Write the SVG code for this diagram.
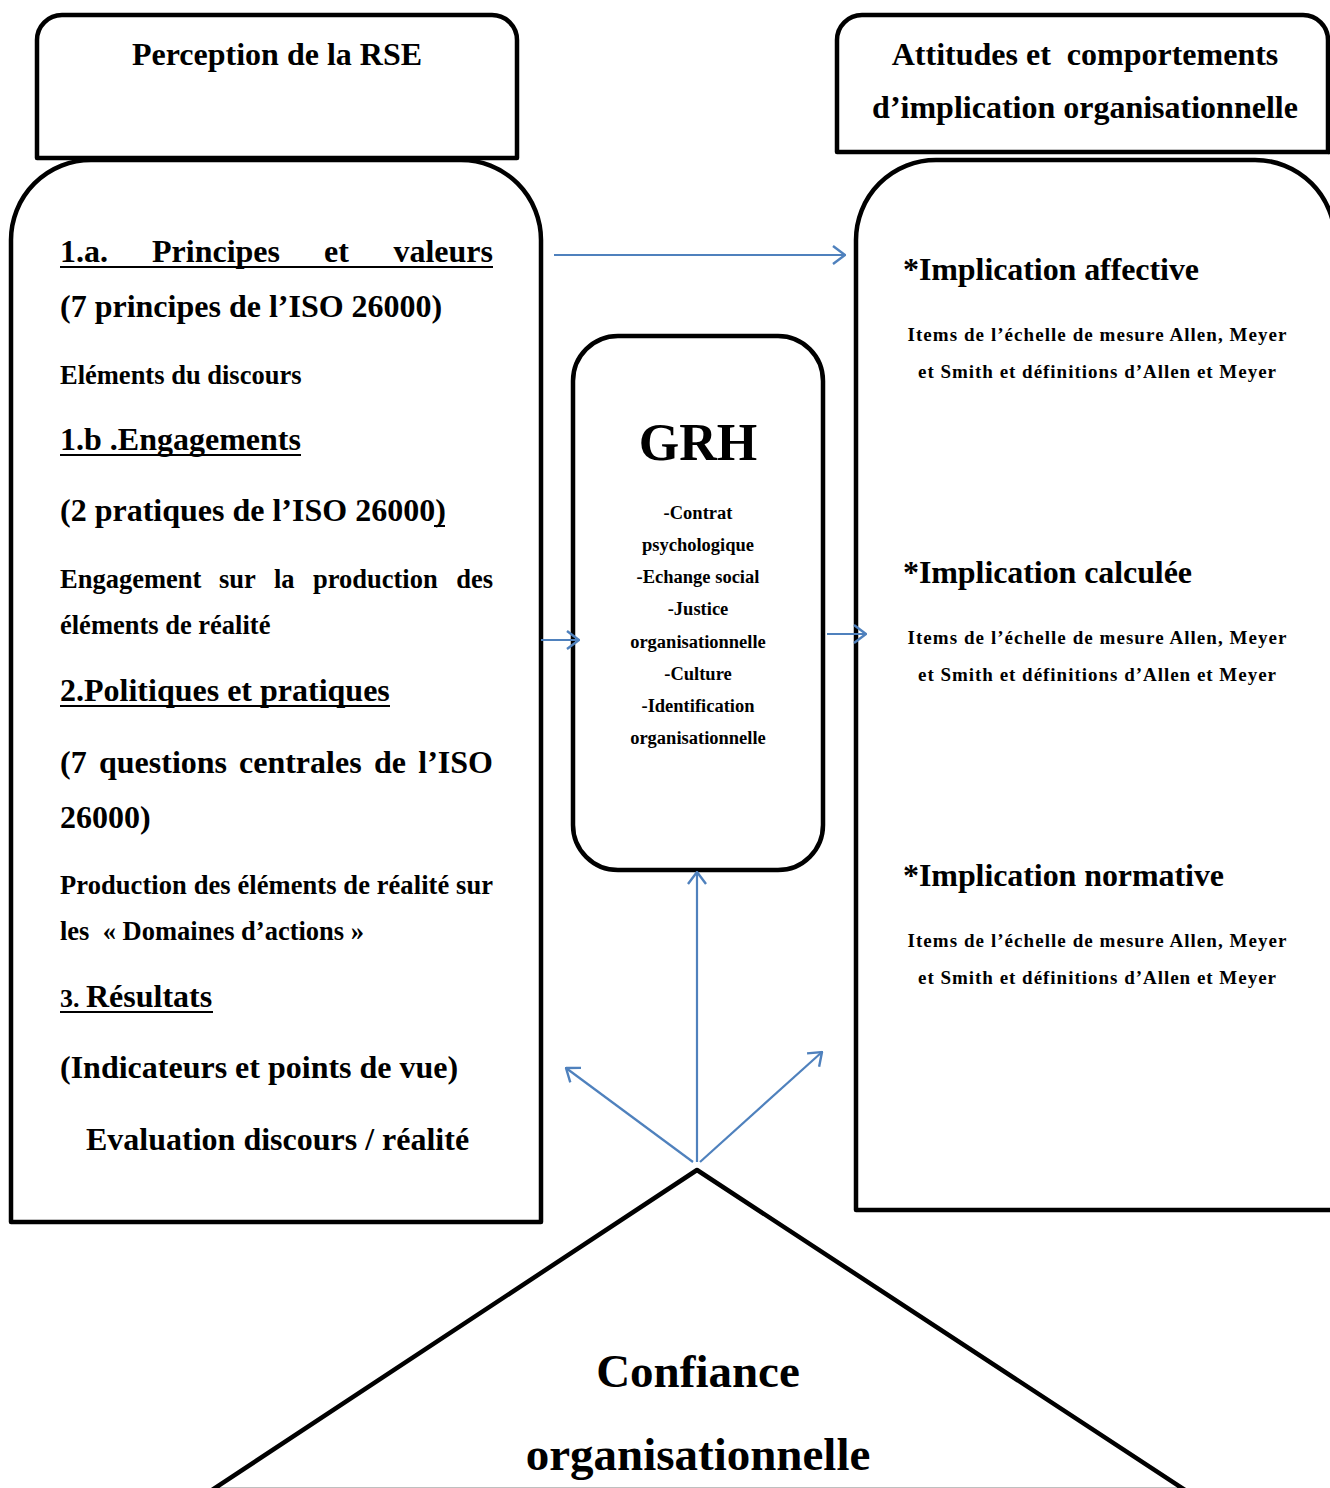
<svg xmlns="http://www.w3.org/2000/svg" width="1330" height="1488" viewBox="0 0 1330 1488">
<style>
.box{fill:#fff;stroke:#000;stroke-width:4.5;stroke-linejoin:round}
.t{font-family:"Liberation Serif","Times New Roman",serif;font-weight:bold;fill:#000}
.h{font-size:32px}
.s{font-size:26.5px}
.g{font-size:18.5px}
.i{font-size:19px}
.u{stroke:#000;stroke-width:2}
.c{fill:none;stroke:#4F81BD;stroke-width:2.2}
</style>
<defs>
<marker id="ah" viewBox="0 0 14 20" refX="13" refY="10" markerUnits="userSpaceOnUse" markerWidth="14" markerHeight="20" orient="auto">
<path d="M1,1 L13,10 L1,19" fill="none" stroke="#4F81BD" stroke-width="2.4"/>
</marker>
</defs>
<rect width="1330" height="1488" fill="#fff"/>

<g id="left-header">
<path class="box" d="M37,158 V40 A25,25 0 0 1 62,15 H492 A25,25 0 0 1 517,40 V158 Z"/>
<text class="t h" x="277" y="65" text-anchor="middle">Perception de la RSE</text>
</g>

<g id="left-box">
<path class="box" d="M11,1222 V240 A80,80 0 0 1 91,160 H461 A80,80 0 0 1 541,240 V1222 Z"/>
<text class="t h" y="262"><tspan x="60">1.a.</tspan><tspan x="152">Principes</tspan><tspan x="324">et</tspan><tspan x="493" text-anchor="end">valeurs</tspan></text>
<line class="u" x1="60" y1="267" x2="493" y2="267"/>
<text class="t h" x="60" y="317">(7 principes de l’ISO 26000)</text>
<text class="t s" x="60" y="384">Eléments du discours</text>
<text class="t h" x="60" y="450">1.b .Engagements</text>
<line class="u" x1="60" y1="455" x2="301" y2="455"/>
<text class="t h" x="60" y="521">(2 pratiques de l’ISO 26000)</text>
<line class="u" x1="434" y1="526" x2="445" y2="526"/>
<text class="t s" y="588"><tspan x="60">Engagement</tspan><tspan x="219">sur</tspan><tspan x="274">la</tspan><tspan x="313">production</tspan><tspan x="493" text-anchor="end">des</tspan></text>
<text class="t s" x="60" y="634">éléments de réalité</text>
<text class="t h" x="60" y="701">2.Politiques et pratiques</text>
<line class="u" x1="60" y1="706" x2="390" y2="706"/>
<text class="t h" y="773"><tspan x="60">(7</tspan><tspan x="99">questions</tspan><tspan x="239">centrales</tspan><tspan x="374">de</tspan><tspan x="493" text-anchor="end">l’ISO</tspan></text>
<text class="t h" x="60" y="828">26000)</text>
<text class="t s" x="60" y="894" textLength="433" lengthAdjust="spacing">Production des éléments de réalité sur</text>
<text class="t s" x="60" y="940" xml:space="preserve">les  « Domaines d’actions »</text>
<text class="t h" x="60" y="1007"><tspan font-size="26">3. </tspan>Résultats</text>
<line class="u" x1="60" y1="1012" x2="213" y2="1012"/>
<text class="t h" x="60" y="1078">(Indicateurs et points de vue)</text>
<text class="t h" x="86" y="1150">Evaluation discours / réalité</text>
</g>

<g id="right-header">
<path class="box" d="M837,152 V40 A25,25 0 0 1 862,15 H1303 A25,25 0 0 1 1328,40 V152 Z"/>
<path class="box" d="M1328,152 H1340"/>
<text class="t h" x="1085" y="65" text-anchor="middle" xml:space="preserve">Attitudes et  comportements</text>
<text class="t h" x="1085" y="118" text-anchor="middle">d’implication organisationnelle</text>
</g>

<g id="right-box">
<path class="box" d="M856,1210 V240 A80,80 0 0 1 936,160 H1255 A80,80 0 0 1 1335,240 V1210 Z"/>
<text class="t h" x="903" y="280" textLength="296" lengthAdjust="spacing">*Implication affective</text>
<text class="t i" x="1097" y="341" text-anchor="middle" textLength="379" lengthAdjust="spacing">Items de l’échelle de mesure Allen, Meyer</text>
<text class="t i" x="1097" y="378" text-anchor="middle" textLength="358" lengthAdjust="spacing">et Smith et définitions d’Allen et Meyer</text>
<text class="t h" x="903" y="583" textLength="289" lengthAdjust="spacing">*Implication calculée</text>
<text class="t i" x="1097" y="644" text-anchor="middle" textLength="379" lengthAdjust="spacing">Items de l’échelle de mesure Allen, Meyer</text>
<text class="t i" x="1097" y="681" text-anchor="middle" textLength="358" lengthAdjust="spacing">et Smith et définitions d’Allen et Meyer</text>
<text class="t h" x="903" y="886" textLength="321" lengthAdjust="spacing">*Implication normative</text>
<text class="t i" x="1097" y="947" text-anchor="middle" textLength="379" lengthAdjust="spacing">Items de l’échelle de mesure Allen, Meyer</text>
<text class="t i" x="1097" y="984" text-anchor="middle" textLength="358" lengthAdjust="spacing">et Smith et définitions d’Allen et Meyer</text>
</g>

<g id="grh">
<rect class="box" x="573" y="336" width="250" height="534" rx="45" ry="45"/>
<text class="t" x="698" y="460" text-anchor="middle" font-size="52">GRH</text>
<g class="t g" text-anchor="middle">
<text x="698" y="519">-Contrat</text>
<text x="698" y="551">psychologique</text>
<text x="698" y="583">-Echange social</text>
<text x="698" y="615">-Justice</text>
<text x="698" y="648">organisationnelle</text>
<text x="698" y="680">-Culture</text>
<text x="698" y="712">-Identification</text>
<text x="698" y="744">organisationnelle</text>
</g>
</g>

<g id="confiance">
<polygon class="box" points="697,1170 1185,1490 212,1490"/>
<text class="t" x="698" y="1387" text-anchor="middle" font-size="47">Confiance</text>
<text class="t" x="698" y="1470" text-anchor="middle" font-size="47">organisationnelle</text>
</g>

<g id="connectors">
<line class="c" x1="554" y1="255" x2="845" y2="255" marker-end="url(#ah)"/>
<line class="c" x1="541" y1="640" x2="579" y2="640" marker-end="url(#ah)"/>
<line class="c" x1="827" y1="634" x2="866" y2="634" marker-end="url(#ah)"/>
<line class="c" x1="697" y1="1162" x2="697" y2="872" marker-end="url(#ah)"/>
<line class="c" x1="693" y1="1162" x2="566" y2="1068" marker-end="url(#ah)"/>
<line class="c" x1="700" y1="1162" x2="822" y2="1052" marker-end="url(#ah)"/>
</g>
</svg>
